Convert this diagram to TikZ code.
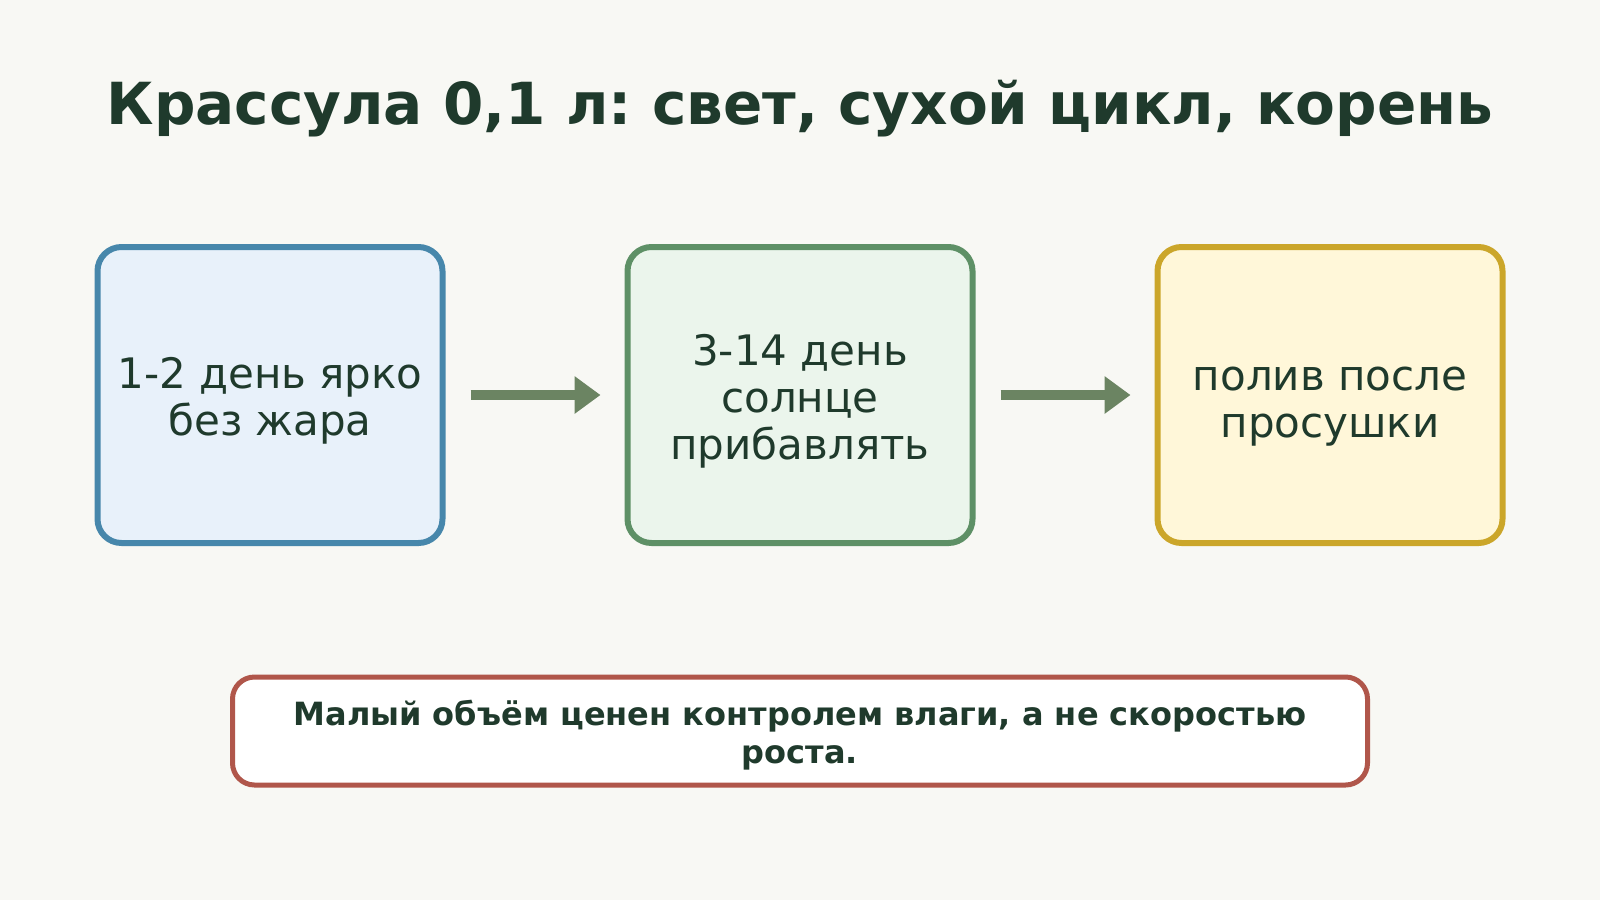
\documentclass[tikz,border=0pt]{standalone}
\usepackage{fontspec}
\setmainfont{DejaVu Sans}
\frenchspacing
\usetikzlibrary{arrows.meta}
\definecolor{bg}{HTML}{F8F8F4}
\definecolor{ink}{HTML}{1F3A2C}
\definecolor{blueline}{HTML}{4787AB}
\definecolor{bluefill}{HTML}{E8F1FA}
\definecolor{greenline}{HTML}{5E9066}
\definecolor{greenfill}{HTML}{EBF5EC}
\definecolor{goldline}{HTML}{CBA62A}
\definecolor{goldfill}{HTML}{FFF7D9}
\definecolor{redline}{HTML}{B0564A}
\definecolor{arrowcol}{HTML}{6B8462}
\tikzset{stage/.style={draw,line width=6pt,rounded corners=24pt,minimum width=345pt,
		minimum height=296pt},
	stagetext/.style={align=center,text=ink,font=\fontsize{42}{47}\selectfont},
	flow/.style={draw=arrowcol,line width=10pt,-{Triangle[length=26pt,width=36pt]},
		shorten <=25pt,shorten >=24pt},
	note/.style={draw=redline,fill=white,line width=5pt,rounded corners=22pt,
		minimum width=1135pt,minimum height=108pt},
	notetext/.style={align=center,text=ink,font=\bfseries\fontsize{32}{38}\selectfont}}

\begin{document}
\begin{tikzpicture}[x=1pt,y=-1pt]
	\fill[bg] (0,0) rectangle (1600,900);
	\node[anchor=base,text=ink,font=\bfseries\fontsize{58}{66}\selectfont] (title) at (800,124)
		{Крассула 0,1 л: свет, сухой цикл, корень};
	\node[stage,draw=blueline,fill=bluefill] (light) at (270,395) {};
	\node[stage,draw=greenline,fill=greenfill] (sun) at (800,395) {};
	\node[stage,draw=goldline,fill=goldfill] (water) at (1330,395) {};
	\node[stagetext] (lighttext) at ([yshift=-6pt]light.center) {1-2 день ярко\\без жара};
	\node[stagetext] (suntext) at ([yshift=-6pt]sun.center) {3-14 день\\солнце\\прибавлять};
	\node[stagetext] (watertext) at ([yshift=-12pt]water.center) {полив после\\просушки};
	\draw[flow] (light) -- (sun);
	\draw[flow] (sun) -- (water);
	\node[note] (moral) at (800,731) {};
	\node[notetext] (moraltext) at ([yshift=-4pt]moral.center)
		{Малый объём ценен контролем влаги, а не скоростью\\роста.};
\end{tikzpicture}
\end{document}
